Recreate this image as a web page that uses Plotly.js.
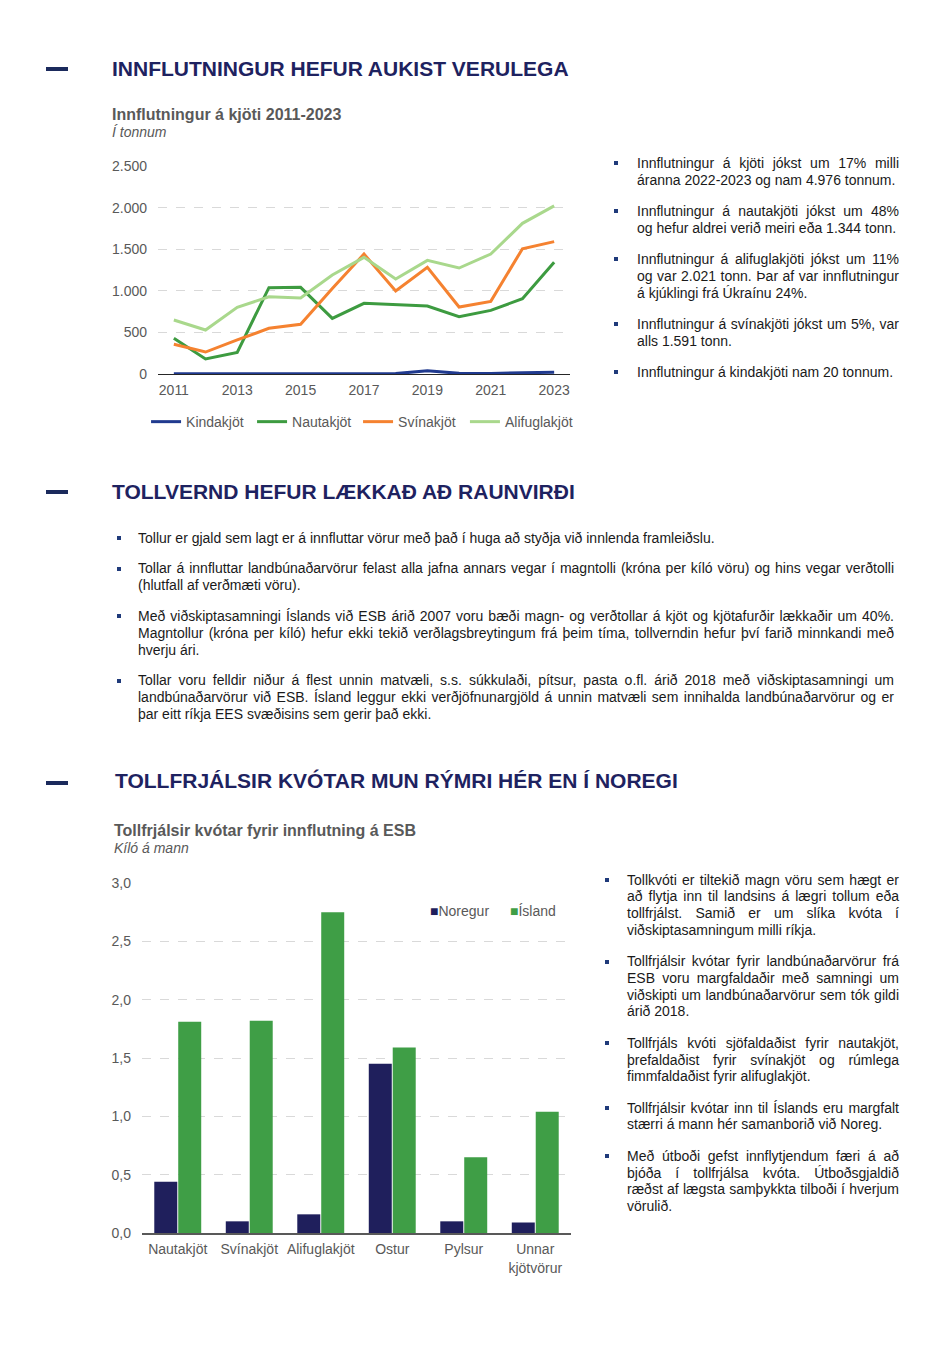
<!DOCTYPE html>
<html><head><meta charset="utf-8">
<script src="https://cdn.plot.ly/plotly-3.0.1.min.js"></script>
<style>
body{margin:0;background:#fff;font-family:"Liberation Sans",Arial,sans-serif;}
#page{position:relative;width:950px;height:1372px;overflow:hidden;background:#fff;}
.h{position:absolute;font-weight:bold;font-size:21px;line-height:24px;color:#1e2260;white-space:nowrap;}
.dash{position:absolute;left:46px;width:22px;height:4px;background:#1b2a5c;}
.sub{position:absolute;font-weight:bold;font-size:16px;line-height:18px;color:#595959;white-space:nowrap;}
.it{position:absolute;font-style:italic;font-size:14px;line-height:16px;color:#595959;white-space:nowrap;}
.bl{position:absolute;margin:0;padding:0;list-style:none;color:#1a1a1a;}
.bl li{position:relative;margin:0;}
.bl li span{display:block;text-align:left;}
.bl li span.j{text-align:justify;text-align-last:justify;}
.bl li::before{content:"";position:absolute;width:4px;height:4px;background:#1f3a7a;}
#r1{left:637px;top:154.5px;width:262px;font-size:14px;line-height:17px;}
#r1 li{margin-bottom:14px;}
#r1 li::before{left:-23px;top:6.5px;}
#mid{left:138px;top:529.5px;width:756px;font-size:14px;line-height:17px;}
#mid li{margin-bottom:13.5px;}
#mid li::before{left:-21px;top:6.5px;}
#r2{left:627px;top:871.6px;width:272px;font-size:14px;line-height:16.7px;}
#r2 li{margin-bottom:14.8px;}
#r2 li::before{left:-22px;top:6.3px;}
.chart{position:absolute;left:0;}
</style>
</head>
<body>
<div id="page">
  <div class="dash" style="top:67px"></div>
  <div class="h" style="left:112px;top:57px">INNFLUTNINGUR HEFUR AUKIST VERULEGA</div>
  <div class="sub" style="left:112px;top:106px">Innflutningur á kjöti 2011-2023</div>
  <div class="it" style="left:112px;top:124px">Í tonnum</div>
  <div id="lineChart" class="chart" style="top:0px;width:600px;height:460px"></div>
  <ul class="bl" id="r1">
    <li><span class="j">Innflutningur á kjöti jókst um 17% milli</span><span>áranna 2022-2023 og nam 4.976 tonnum.</span></li>
    <li><span class="j">Innflutningur á nautakjöti jókst um 48%</span><span>og hefur aldrei verið meiri eða 1.344 tonn.</span></li>
    <li><span class="j">Innflutningur á alifuglakjöti jókst um 11%</span><span class="j">og var 2.021 tonn. Þar af var innflutningur</span><span>á kjúklingi frá Úkraínu 24%.</span></li>
    <li><span class="j">Innflutningur á svínakjöti jókst um 5%, var</span><span>alls 1.591 tonn.</span></li>
    <li><span>Innflutningur á kindakjöti nam 20 tonnum.</span></li>
  </ul>

  <div class="dash" style="top:490px"></div>
  <div class="h" style="left:112px;top:480px">TOLLVERND HEFUR LÆKKAÐ AÐ RAUNVIRÐI</div>
  <ul class="bl" id="mid">
    <li><span>Tollur er gjald sem lagt er á innfluttar vörur með það í huga að styðja við innlenda framleiðslu.</span></li>
    <li><span class="j">Tollar á innfluttar landbúnaðarvörur felast alla jafna annars vegar í magntolli (króna per kíló vöru) og hins vegar verðtolli</span><span>(hlutfall af verðmæti vöru).</span></li>
    <li><span class="j">Með viðskiptasamningi Íslands við ESB árið 2007 voru bæði magn- og verðtollar á kjöt og kjötafurðir lækkaðir um 40%.</span><span class="j">Magntollur (króna per kíló) hefur ekki tekið verðlagsbreytingum frá þeim tíma, tollverndin hefur því farið minnkandi með</span><span>hverju ári.</span></li>
    <li><span class="j">Tollar voru felldir niður á flest unnin matvæli, s.s. súkkulaði, pítsur, pasta o.fl. árið 2018 með viðskiptasamningi um</span><span class="j">landbúnaðarvörur við ESB. Ísland leggur ekki verðjöfnunargjöld á unnin matvæli sem innihalda landbúnaðarvörur og er</span><span>þar eitt ríkja EES svæðisins sem gerir það ekki.</span></li>
  </ul>

  <div class="dash" style="top:781px"></div>
  <div class="h" style="left:115px;top:769px">TOLLFRJÁLSIR KVÓTAR MUN RÝMRI HÉR EN Í NOREGI</div>
  <div class="sub" style="left:114px;top:822px">Tollfrjálsir kvótar fyrir innflutning á ESB</div>
  <div class="it" style="left:114px;top:840px">Kíló á mann</div>
  <div id="barChart" class="chart" style="top:800px;width:600px;height:500px"></div>
  <ul class="bl" id="r2">
    <li><span class="j">Tollkvóti er tiltekið magn vöru sem hægt er</span><span class="j">að flytja inn til landsins á lægri tollum eða</span><span class="j">tollfrjálst. Samið er um slíka kvóta í</span><span>viðskiptasamningum milli ríkja.</span></li>
    <li><span class="j">Tollfrjálsir kvótar fyrir landbúnaðarvörur frá</span><span class="j">ESB voru margfaldaðir með samningi um</span><span class="j">viðskipti um landbúnaðarvörur sem tók gildi</span><span>árið 2018.</span></li>
    <li><span class="j">Tollfrjáls kvóti sjöfaldaðist fyrir nautakjöt,</span><span class="j">þrefaldaðist fyrir svínakjöt og rúmlega</span><span>fimmfaldaðist fyrir alifuglakjöt.</span></li>
    <li><span class="j">Tollfrjálsir kvótar inn til Íslands eru margfalt</span><span>stærri á mann hér samanborið við Noreg.</span></li>
    <li><span class="j">Með útboði gefst innflytjendum færi á að</span><span class="j">bjóða í tollfrjálsa kvóta. Útboðsgjaldið</span><span class="j">ræðst af lægsta samþykkta tilboði í hverjum</span><span>vörulið.</span></li>
  </ul>
</div>
<script>
// ---- Line chart data (tonnes) ----
const years = [2011,2012,2013,2014,2015,2016,2017,2018,2019,2020,2021,2022,2023];
const kindakjot = [2,1,1,2,2,2,3,5,38,8,6,16,20];
const nautakjot = [429,180,260,1038,1042,669,849,829,817,689,765,905,1344];
const svinakjot = [357,264,409,549,597,1029,1442,997,1282,805,873,1506,1591];
const alifuglakjot = [649,529,801,929,913,1190,1402,1142,1366,1274,1442,1811,2021];

// ---- Bar chart data (kg per person) ----
const barCats = ['Nautakjöt','Svínakjöt','Alifuglakjöt','Ostur','Pylsur','Unnar<br>kjötvörur'];
const seriesNames = ['Noregur','Ísland'];
const noregur = [0.44,0.10,0.16,1.45,0.10,0.09];
const island = [1.81,1.82,2.75,1.59,0.65,1.04];

const FONT = 'Liberation Sans, Arial, sans-serif';
const cfg = {displayModeBar:false, staticPlot:true};
const barColors = ['#1f1f5c','#3f9e46'];

function lineTrace(name, y, color, legendId){
  return {type:'scatter', mode:'lines', name:name, x:years, y:y, legend:legendId,
          line:{color:color, width:3}, hoverinfo:'skip'};
}
const legFont = {family:FONT, size:14, color:'#595959'};
Plotly.newPlot('lineChart', [
  lineTrace('Kindakjöt', kindakjot, '#203a8f', 'legend'),
  lineTrace('Nautakjöt', nautakjot, '#3d9b40', 'legend'),
  lineTrace('Svínakjöt', svinakjot, '#f58230', 'legend'),
  lineTrace('Alifuglakjöt', alifuglakjot, '#a9d88c', 'legend2')
], {
  width:600, height:460,
  margin:{l:158, r:30, t:166, b:86},
  paper_bgcolor:'rgba(0,0,0,0)', plot_bgcolor:'rgba(0,0,0,0)',
  separators:',.',
  font:{family:FONT, size:14, color:'#595959'},
  xaxis:{range:[2010.5,2023.5], tick0:2011, dtick:2, showgrid:false, zeroline:false,
         showline:true, linecolor:'#262626', linewidth:1, ticks:'', ticklabelstandoff:3},
  yaxis:{range:[0,2500], dtick:500, tickformat:',.0f', showgrid:true, gridcolor:'#d9d9d9',
         griddash:'dash', zeroline:false, showline:false, ticks:'', ticklabelstandoff:10},
  showlegend:true,
  legend:{orientation:'h', x:-0.029, xanchor:'left', y:-0.231, yanchor:'middle',
          entrywidth:61, entrywidthmode:'pixels', bgcolor:'rgba(0,0,0,0)', font:legFont},
  legend2:{orientation:'h', x:0.745, xanchor:'left', y:-0.231, yanchor:'middle',
          bgcolor:'rgba(0,0,0,0)', font:legFont}
}, cfg);

Plotly.newPlot('barChart', [
  {type:'bar', name:seriesNames[0], x:barCats, y:noregur, marker:{color:barColors[0]}, hoverinfo:'skip'},
  {type:'bar', name:seriesNames[1], x:barCats, y:island, marker:{color:barColors[1]}, hoverinfo:'skip'}
], {
  width:600, height:500,
  margin:{l:142, r:29, t:83, b:67},
  paper_bgcolor:'rgba(0,0,0,0)', plot_bgcolor:'rgba(0,0,0,0)',
  separators:',.',
  barmode:'group', bargap:0.33, bargroupgap:0.04,
  font:{family:FONT, size:14, color:'#595959'},
  xaxis:{showgrid:false, zeroline:false, showline:true, linecolor:'#595959', linewidth:1.5,
         ticks:'', ticklabelstandoff:3},
  yaxis:{range:[0,3], dtick:0.5, tickformat:'.1f', showgrid:true, gridcolor:'#d9d9d9',
         griddash:'dash', zeroline:false, showline:false, ticks:'', ticklabelstandoff:10},
  showlegend:false,
  annotations:[0,1].map(i => ({
    xref:'paper', yref:'paper', x:[0.6667,0.853][i], y:0.92, xanchor:'left', yanchor:'middle',
    showarrow:false, font:{family:FONT, size:14, color:'#595959'},
    text:'<span style="color:'+barColors[i]+'">■</span>'+seriesNames[i]
  }))
}, cfg);
</script>
</body></html>
